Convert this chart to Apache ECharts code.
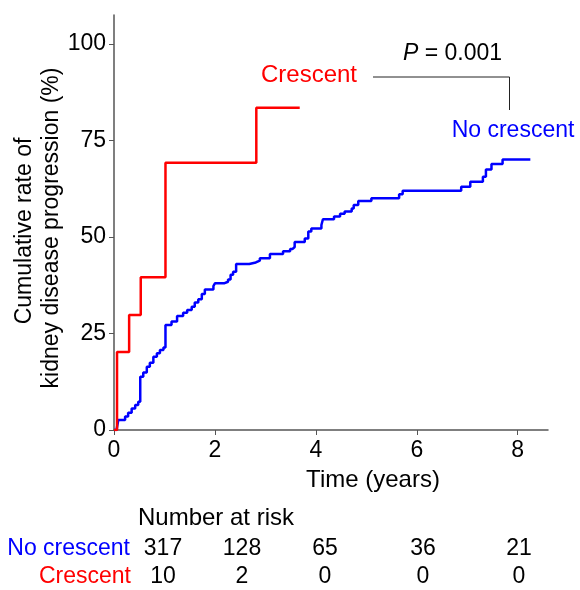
<!DOCTYPE html>
<html>
<head>
<meta charset="utf-8">
<script src="https://cdn.jsdelivr.net/npm/echarts@6/dist/echarts.min.js"></script>
<style>html,body{margin:0;padding:0;background:#fff}#c{width:580px;height:590px}</style>
</head>
<body>
<div id="c"></div>
<script>
// ---- data ----
var xTicks = [0, 2, 4, 6, 8];
var yTicks = [0, 25, 50, 75, 100];
var crescent = [[0,0],[0.06,20.2],[0.30,29.8],[0.53,39.6],[1.02,69.2],[2.82,83.5],[3.68,83.5]];
var noCrescent = [[0,0],[0.05,0],[0.085,2.6],[0.22,3.5],[0.28,4.5],[0.35,5.6],[0.42,6.5],[0.48,7.3],[0.52,13.8],[0.58,14.9],[0.65,16.4],[0.71,17.4],[0.78,19.0],[0.85,19.9],[0.91,20.7],[0.98,21.4],[1.02,27.2],[1.14,28.1],[1.25,29.5],[1.37,30.4],[1.45,31.1],[1.54,31.9],[1.60,33.0],[1.67,33.9],[1.74,35.2],[1.80,36.4],[1.97,37.3],[2.0,38.0],[2.18,38.4],[2.26,39.0],[2.31,40.2],[2.36,41.0],[2.42,43.0],[2.68,43.4],[2.81,43.9],[2.89,44.5],[3.09,45.6],[3.35,46.3],[3.49,46.9],[3.54,47.4],[3.58,48.7],[3.78,49.6],[3.85,51.4],[3.91,52.2],[4.11,53.1],[4.14,54.6],[4.36,55.3],[4.48,56.0],[4.57,56.6],[4.71,57.4],[4.75,58.3],[4.84,59.3],[5.10,60.0],[5.65,61.1],[5.72,62.0],[6.88,63.0],[7.06,64.3],[7.31,65.6],[7.37,67.5],[7.48,68.9],[7.70,70.1],[8.25,70.1]];
var riskNoCrescent = [317, 128, 65, 36, 21];
var riskCrescent = [10, 2, 0, 0, 0];
var pText = '= 0.001';

// ---- layout ----
var FONT = "'Liberation Sans', Arial, sans-serif";
var riskX = [163, 242, 325, 423, 519];
var chart = echarts.init(document.getElementById('c'));
var graphics = [
  {type:'text', x:25, y:231, rotation:Math.PI/2, style:{text:'Cumulative rate of', font:'23px '+FONT, fill:'#000', align:'center', verticalAlign:'middle'}},
  {type:'text', x:52, y:228, rotation:Math.PI/2, style:{text:'kidney disease progression (%)', font:'23px '+FONT, fill:'#000', align:'center', verticalAlign:'middle'}},
  {type:'text', x:309, y:75, style:{text:'Crescent', font:'24px '+FONT, fill:'#ff0000', align:'center', verticalAlign:'middle'}},
  {type:'text', x:513, y:131, style:{text:'No crescent', font:'23px '+FONT, fill:'#0000ff', align:'center', verticalAlign:'middle'}},
  {type:'text', x:403, y:54, style:{text:'{i|P} '+pText, font:'23px '+FONT, fill:'#000', align:'left', verticalAlign:'middle', rich:{i:{fontStyle:'italic', fontSize:23, fontFamily:FONT, fill:'#000'}}}},
  {type:'polyline', shape:{points:[[373,77],[509.5,77],[509.5,110]]}, style:{stroke:'#222', lineWidth:1, fill:null}},
  {type:'text', x:216, y:518, style:{text:'Number at risk', font:'24px '+FONT, fill:'#000', align:'center', verticalAlign:'middle'}},
  {type:'text', x:130, y:549, style:{text:'No crescent', font:'23px '+FONT, fill:'#0000ff', align:'right', verticalAlign:'middle'}},
  {type:'text', x:131, y:577, style:{text:'Crescent', font:'23px '+FONT, fill:'#ff0000', align:'right', verticalAlign:'middle'}}
];
riskNoCrescent.forEach(function(v,i){
  graphics.push({type:'text', x:riskX[i], y:549, style:{text:String(v), font:'23px '+FONT, fill:'#000', align:'center', verticalAlign:'middle'}});
});
riskCrescent.forEach(function(v,i){
  graphics.push({type:'text', x:riskX[i], y:577, style:{text:String(v), font:'23px '+FONT, fill:'#000', align:'center', verticalAlign:'middle'}});
});

chart.setOption({
  animation:false,
  backgroundColor:'#fff',
  grid:{left:114, right:32, top:15, bottom:160, containLabel:false},
  xAxis:{type:'value', min:0, max:8.6,
    axisLine:{lineStyle:{color:'#555', width:1.5}},
    axisTick:{show:true, length:5, lineStyle:{color:'#555'}, customValues:xTicks},
    axisLabel:{customValues:xTicks, fontSize:23, fontFamily:FONT, color:'#000', margin:9},
    splitLine:{show:false},
    name:'Time (years)', nameLocation:'middle', nameGap:38,
    nameTextStyle:{fontSize:24, fontFamily:FONT, color:'#000', padding:[0,0,0,84]}},
  yAxis:{type:'value', min:0, max:107.5,
    axisLine:{show:true, lineStyle:{color:'#555', width:1.5}},
    axisTick:{show:true, length:5, lineStyle:{color:'#555'}, customValues:yTicks},
    axisLabel:{customValues:yTicks, fontSize:23, fontFamily:FONT, color:'#000', margin:8},
    splitLine:{show:false}},
  graphic:graphics,
  series:[
    {type:'line', name:'No crescent', step:'end', data:noCrescent, showSymbol:false, symbol:'none', lineStyle:{color:'#0000ff', width:2.5}, z:2},
    {type:'line', name:'Crescent', step:'end', data:crescent, showSymbol:false, symbol:'none', lineStyle:{color:'#ff0000', width:2.5}, z:3}
  ]
});
</script>
</body>
</html>
